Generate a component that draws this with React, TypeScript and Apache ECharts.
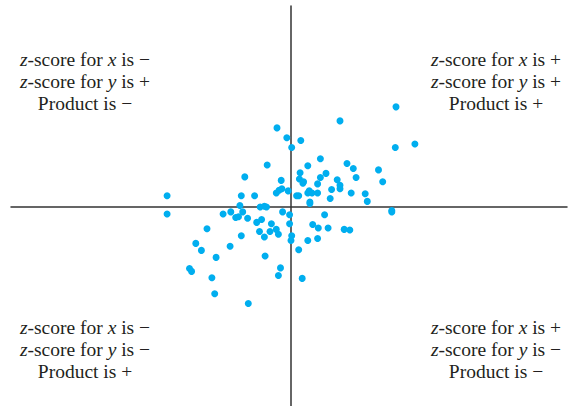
import React, { useEffect, useRef } from "react";
import * as echarts from "echarts";

// z-scores (x, y)
const xValues: number[] = [
  1.5, 0.7, -0.2, -0.06, 0.14, 0.01, 1.49, 1.77, 0.42, -0.34,
  0.24, 0.8, 0.89, 1.25, 0.13, 0.5, -0.66, 0.42, 0.93, 0.12,
  0.66, -0.14, 0.18, 0.17, 1.31, 0.38, 0.7, 0.7, 0.58, -0.13,
  -0.17, -0.04, -0.21, 0.24, 0.26, 0.3, 0.38, 0.86, 1.06, -1.77,
  -0.71, -0.52, 0.08, 0.11, 0.56, 1.09, 0.27, 0.27, -0.73, -0.44,
  -0.38, -0.35, 1.44, 1.44, -1.77, -0.97, -0.86, -0.69, -0.12, -0.79,
  -0.75, -0.62, -0.02, -0.42, -0.49, 0.48, -0.28, -0.02, 0.31, 0.39,
  0.53, 0.76, 0.84, -1.2, -0.21, -0.3, -0.45, -0.18, -0.71, -0.38,
  0.01, 0.0, 0.24, 0.38, -1.36, -0.87, -1.28, 0.11, -0.37, -1.07,
  -0.15, -1.45, -1.42, -1.13, -0.18, 0.16, -1.09, -0.61,
];
const yValues: number[] = [
  1.43, 1.23, 1.13, 0.99, 0.95, 0.85, 0.85, 0.9, 0.69, 0.6,
  0.59, 0.62, 0.55, 0.53, 0.49, 0.48, 0.43, 0.42, 0.42, 0.4,
  0.39, 0.38, 0.36, 0.34, 0.36, 0.33, 0.31, 0.26, 0.25, 0.26,
  0.24, 0.23, 0.2, 0.2, 0.23, 0.2, 0.2, 0.2, 0.19, 0.16,
  0.16, 0.16, 0.16, 0.16, 0.12, 0.08, 0.07, 0.05, 0.02, 0.0,
  0.01, 0.0, -0.05, -0.07, -0.1, -0.1, -0.07, -0.07, -0.07, -0.15,
  -0.14, -0.16, -0.11, -0.18, -0.22, -0.11, -0.24, -0.24, -0.25, -0.3,
  -0.3, -0.32, -0.33, -0.31, -0.32, -0.35, -0.35, -0.39, -0.41, -0.43,
  -0.41, -0.48, -0.48, -0.45, -0.52, -0.56, -0.62, -0.61, -0.7, -0.72,
  -0.87, -0.88, -0.92, -1.01, -0.98, -1.02, -1.24, -1.38,
];

const quadrantLabels: string[][] = [
  ["{i|z}-score for {i|x} is \u2212", "{i|z}-score for {i|y} is +", "Product is \u2212"],
  ["{i|z}-score for {i|x} is +", "{i|z}-score for {i|y} is +", "Product is +"],
  ["{i|z}-score for {i|x} is \u2212", "{i|z}-score for {i|y} is \u2212", "Product is +"],
  ["{i|z}-score for {i|x} is +", "{i|z}-score for {i|y} is \u2212", "Product is \u2212"],
];

const FONT = "'Liberation Serif', 'DejaVu Serif', serif";
const TEXT_COLOR = "#231f20";
const FS = 19.5;

export default function App() {
  const ref = useRef<HTMLDivElement>(null);
  useEffect(() => {
    if (!ref.current) return;
    const chart = echarts.init(ref.current, null, { renderer: "svg" });
    const data = xValues.map((x, i) => [x, yValues[i]]);

    const blockPos = [
      { cx: 85, ys: [59.5, 81.5, 103.5] },
      { cx: 496, ys: [59.5, 81.5, 103.5] },
      { cx: 85, ys: [327.5, 349.5, 371.5] },
      { cx: 496, ys: [327.5, 349.5, 371.5] },
    ];
    const graphics: any[] = [];
    quadrantLabels.forEach((lines, qi) => {
      lines.forEach((line, li) => {
        graphics.push({
          type: "text",
          x: blockPos[qi].cx,
          y: blockPos[qi].ys[li],
          silent: true,
          style: {
            text: line,
            fill: TEXT_COLOR,
            fontFamily: FONT,
            fontSize: FS,
            align: "center",
            verticalAlign: "middle",
            rich: {
              i: { fontStyle: "italic", fontFamily: FONT, fontSize: FS, fill: TEXT_COLOR },
            },
          },
        });
      });
    });

    const axisCommon = {
      type: "value" as const,
      axisLine: { show: true, onZero: true, lineStyle: { color: "#333", width: 1.5 } },
      axisTick: { show: false },
      axisLabel: { show: false },
      splitLine: { show: false },
    };

    chart.setOption({
      animation: false,
      grid: { left: 11, right: 7, top: 6, bottom: 0, containLabel: false },
      xAxis: { ...axisCommon, min: -4, max: 3.943 },
      yAxis: { ...axisCommon, min: -2.843, max: 2.871 },
      series: [
        {
          type: "scatter",
          data,
          symbol: "circle",
          symbolSize: 7,
          itemStyle: { color: "#00aeef", opacity: 1 },
        },
      ],
      graphic: graphics,
    });
    return () => chart.dispose();
  }, []);
  return (
    <div
      ref={ref}
      style={{ position: "fixed", left: 0, top: 0, width: 574, height: 406, background: "#fff" }}
    />
  );
}
